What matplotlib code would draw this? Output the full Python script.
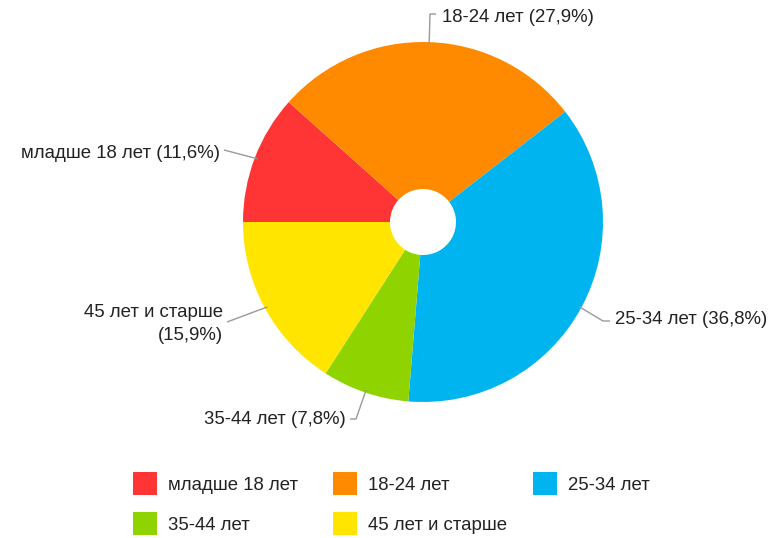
import matplotlib
matplotlib.use("Agg")
import matplotlib.pyplot as plt
from matplotlib.patches import Patch
from matplotlib.legend import Legend
import numpy as np

plt.rcParams['font.family'] = ['Liberation Sans', 'DejaVu Sans']

categories = ["младше 18 лет", "18-24 лет", "25-34 лет", "35-44 лет", "45 лет и старше"]
shares = [11.6, 27.9, 36.8, 7.8, 15.9]
pct_labels = ["11,6%", "27,9%", "36,8%", "7,8%", "15,9%"]
colors = ["#FF3535", "#FF8A00", "#00B4F0", "#8FD400", "#FFE500"]

W, H = 782, 538
fig = plt.figure(figsize=(W / 100, H / 100), dpi=100)
ax = fig.add_axes([0, 0, 1, 1])

# pie geometry in pixel units (y measured upward)
cx, cy, R, hole = 423, H - 222, 180, 33

wedges, _ = ax.pie(shares, colors=colors, startangle=180, counterclock=False,
                   center=(cx, cy), radius=R,
                   wedgeprops=dict(width=R - hole, linewidth=0))
ax.set_xlim(0, W)
ax.set_ylim(0, H)
ax.set_aspect('auto')
ax.axis('off')


def arc_point(w, r=0.985):
    a = np.deg2rad((w.theta1 + w.theta2) / 2)
    return cx + R * r * np.cos(a), cy + R * r * np.sin(a)


lc = "#9a9a9a"
fs = 13.4
txt_color = "#222222"

# label placement: text anchor, alignment, leader bend points (pixels, y down)
layout = [
    dict(xy=(220, 153), ha='right', pts=[(224, 150)]),
    dict(xy=(442, 17), ha='left', pts=[(436, 14), (430, 14)]),
    dict(xy=(615, 320), ha='left', pts=[(610, 321), (603, 321)]),
    dict(xy=(346, 420), ha='right', pts=[(350, 419), (356, 419)]),
    dict(xy=(223, 324), ha='right', pts=[(227, 322)]),
]

for i, (w, lay) in enumerate(zip(wedges, layout)):
    if i == 4:
        text = f"{categories[i]}\n({pct_labels[i]})"
    else:
        text = f"{categories[i]} ({pct_labels[i]})"
    tx, ty = lay['xy']
    ax.text(tx, H - ty, text, ha=lay['ha'], va='center', fontsize=fs,
            color=txt_color, multialignment='right', linespacing=1.5)
    ax_, ay_ = arc_point(w)
    xs = [p[0] for p in lay['pts']] + [ax_]
    ys = [H - p[1] for p in lay['pts']] + [ay_]
    ax.plot(xs, ys, color=lc, lw=1.0, solid_capstyle='butt')

# legend: three evenly spaced columns, row-major order
handles = [Patch(facecolor=c, edgecolor='none') for c in colors]
col_x = [133, 333, 533]
col_items = [[0, 3], [1, 4], [2]]
fpx = fs * 100 / 72
for x0, items in zip(col_x, col_items):
    leg = Legend(ax, [handles[k] for k in items], [categories[k] for k in items],
                 loc='upper left', bbox_to_anchor=(x0 / W, 1 - 472 / H),
                 bbox_transform=fig.transFigure, frameon=False,
                 fontsize=fs, borderpad=0, borderaxespad=0,
                 handlelength=24 / fpx, handleheight=28 / fpx,
                 handletextpad=11 / fpx,
                 labelspacing=17.5 / fpx, labelcolor=txt_color)
    ax.add_artist(leg)

fig.savefig("out.png", dpi=100, facecolor='white')
